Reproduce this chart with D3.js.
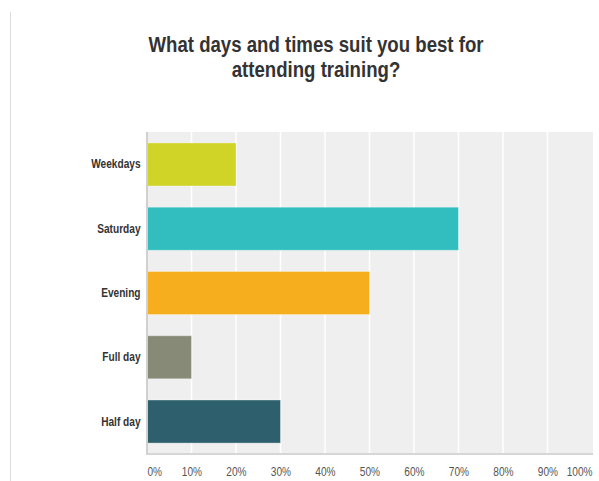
<!DOCTYPE html>
<html>
<head>
<meta charset="utf-8">
<script src="https://cdn.jsdelivr.net/npm/d3@7/dist/d3.min.js"></script>
<style>
  body { margin: 0; background: #fff; }
  svg { display: block; }
</style>
</head>
<body>
<div id="chart"></div>
<script>
var width = 599;
var height = 481;

var categories = ['Weekdays', 'Saturday', 'Evening', 'Full day', 'Half day'];
var values = [20, 70, 50, 10, 30];
var colors = ['#cfd427', '#32bebe', '#f6ae1f', '#888a78', '#2e5f6c'];
var ticks = [0, 10, 20, 30, 40, 50, 60, 70, 80, 90, 100];
var titleLines = ['What days and times suit you best for', 'attending training?'];

var plot = {left: 147, right: 593, top: 132, bottom: 454};
var font = '"Liberation Sans", Arial, sans-serif';
// no narrow font installed, so squeeze text horizontally
var narrow = 0.81;

var svg = d3.select('#chart')
  .append('svg')
  .attr('width', width)
  .attr('height', height);

// frame line on the left
svg.append('line')
  .attr('x1', 10.5).attr('x2', 10.5)
  .attr('y1', 12).attr('y2', height)
  .attr('stroke', '#dcdcdc')
  .attr('stroke-width', 1);

// title
svg.append('text')
  .attr('transform', `translate(316,52) scale(${narrow},1)`)
  .attr('text-anchor', 'middle')
  .attr('font-family', font)
  .attr('font-weight', 'bold')
  .attr('font-size', 23)
  .attr('fill', '#333')
  .selectAll('tspan')
  .data(titleLines)
  .enter()
  .append('tspan')
  .attr('x', 0)
  .attr('dy', (d, i) => i === 0 ? 0 : 25)
  .text(d => d);

var x = d3.scaleLinear()
  .domain([0, 100])
  .range([plot.left, plot.right - 1]);

var y = d3.scaleBand()
  .domain(categories)
  .range([plot.top, plot.bottom])
  .paddingInner(0.33)
  .paddingOuter(0.17);

// background
svg.append('rect')
  .attr('x', plot.left)
  .attr('y', plot.top)
  .attr('width', plot.right - plot.left)
  .attr('height', plot.bottom - plot.top)
  .attr('fill', '#efefef');

// grid
svg.append('g')
  .selectAll('line')
  .data(ticks.slice(1, -1))
  .enter()
  .append('line')
  .attr('x1', d => x(d)).attr('x2', d => x(d))
  .attr('y1', plot.top).attr('y2', plot.bottom)
  .attr('stroke', '#fff')
  .attr('stroke-width', 1.5);

// bars
svg.append('g')
  .selectAll('rect')
  .data(values)
  .enter()
  .append('rect')
  .attr('x', x(0))
  .attr('y', (d, i) => y(categories[i]))
  .attr('width', d => x(d) - x(0))
  .attr('height', y.bandwidth())
  .attr('fill', (d, i) => colors[i])
  .attr('stroke', '#fff')
  .attr('stroke-opacity', 0.35)
  .attr('stroke-width', 1);

// axis lines
svg.append('line')
  .attr('x1', plot.left).attr('x2', plot.left)
  .attr('y1', plot.top).attr('y2', plot.bottom + 1)
  .attr('stroke', '#d0d0d0')
  .attr('stroke-width', 2);
svg.append('line')
  .attr('x1', plot.left).attr('x2', plot.right)
  .attr('y1', plot.bottom).attr('y2', plot.bottom)
  .attr('stroke', '#d6d6d6')
  .attr('stroke-width', 2);

// category labels
var yAxis = d3.axisLeft(y).tickSize(0).tickPadding(8);
svg.append('g')
  .attr('transform', `translate(${plot.left},0)`)
  .call(yAxis)
  .call(g => g.select('.domain').remove())
  .selectAll('text')
  .attr('transform', `scale(${narrow},1)`)
  .attr('font-family', font)
  .attr('font-weight', 'bold')
  .attr('font-size', 12.5)
  .attr('fill', '#333');

// x tick labels
var xAxis = d3.axisBottom(x).tickValues(ticks).tickSize(0).tickPadding(13)
  .tickFormat(d => d + '%');
svg.append('g')
  .attr('transform', `translate(0,${plot.bottom})`)
  .call(xAxis)
  .call(g => g.select('.domain').remove())
  .selectAll('text')
  .attr('transform', `scale(${narrow},1)`)
  .attr('font-family', font)
  .attr('font-size', 12.5)
  .attr('fill', '#555')
  .attr('text-anchor', (d, i) => i === 0 ? 'start' : (i === ticks.length - 1 ? 'end' : 'middle'));
</script>
</body>
</html>
